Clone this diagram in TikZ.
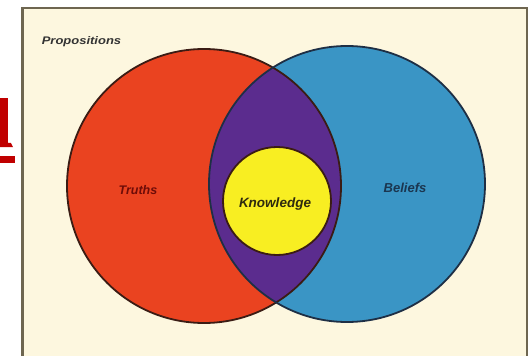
\documentclass[tikz,border=0pt]{standalone}
\usepackage{fontspec}
\setmainfont{Liberation Sans}
\definecolor{cream}{HTML}{FDF7DF}
\definecolor{framecol}{HTML}{6E6650}
\definecolor{truthred}{HTML}{EA4320}
\definecolor{beliefblue}{HTML}{3A95C5}
\definecolor{overlapcol}{HTML}{5B2C8E}
\definecolor{knowyellow}{HTML}{F8EE22}
\definecolor{outlinecol}{HTML}{3B1C14}
\definecolor{blueoutline}{HTML}{1E2F45}
\definecolor{fragred}{HTML}{C00000}
\definecolor{proptext}{HTML}{333333}
\definecolor{truthtext}{HTML}{6E0C08}
\definecolor{belieftext}{HTML}{1B3650}
\definecolor{knowtext}{HTML}{2E2A0E}
\begin{document}
\begin{tikzpicture}[x=1pt,y=-1pt,
  lbl/.style={inner sep=0pt},
  ring/.style={line width=1.8pt}]
\useasboundingbox (0,0) rectangle (531,356);
\fill[white] (0,0) rectangle (531,356);
% frame
\draw[framecol, line width=2.5pt, fill=cream] (22.5,8) rectangle (527,362);
% cropped red glyph fragment at the left edge
\fill[fragred] (0,98) rectangle (8,147);
\fill[fragred] (0,142) -- (11,143) -- (13,147) -- (0,147) -- cycle;
\fill[fragred] (0,156) rectangle (15,163);
% circles
\fill[truthred] (204,186) circle (137);
\fill[beliefblue] (347,184) circle (138);
\begin{scope}
  \clip (204,186) circle (137);
  \fill[overlapcol] (347,184) circle (138);
\end{scope}
\draw[outlinecol, ring] (204,186) circle (137);
\draw[blueoutline, ring] (347,184) circle (138);
\draw[outlinecol, ring, fill=knowyellow] (277,201) circle (54);
% labels
\node[lbl, text=proptext, font=\fontsize{11}{12}\selectfont\bfseries\itshape] (prop) at (81.5,41.5) {\scalebox{1.18}[1]{Propositions}};
\node[lbl, text=truthtext, font=\fontsize{12.5}{14}\selectfont\bfseries\itshape] (truths) at (138,190) {Truths};
\node[lbl, text=belieftext, font=\fontsize{13}{15}\selectfont\bfseries\itshape] (beliefs) at (405,188) {Beliefs};
\node[lbl, text=knowtext, font=\fontsize{13.5}{15}\selectfont\bfseries\itshape] (know) at (275,204) {Knowledge};
\end{tikzpicture}
\end{document}
